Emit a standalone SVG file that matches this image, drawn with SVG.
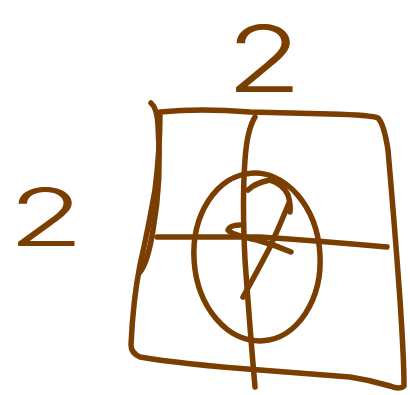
<svg xmlns="http://www.w3.org/2000/svg" width="410" height="395" viewBox="0 0 410 395">
<style>
.s{fill:none;stroke:#7a3e00;stroke-width:5.5;stroke-linecap:round;stroke-linejoin:round}
.t{fill:#7a3e00;font-family:Inter,"Liberation Sans",sans-serif;font-weight:300;text-anchor:middle}
</style>
<rect width="410" height="395" fill="#ffffff"/>
<text class="t" x="0" y="0" font-size="92" transform="translate(264,92) scale(1.35,1)">2</text>
<text class="t" x="0" y="0" font-size="80" transform="translate(46,246) scale(1.55,1)">2</text>
<path class="s" d="M151,103 Q157,108 158,125 Q162,180 153,230 Q148,262 140,272"/>
<path class="s" d="M160,112 Q200,108 250,112 L330,114 Q372,115 378,118 Q384,124 388,150 Q395,230 400,300 Q404,360 404,386 Q400,390 390,386 Q370,380 350,377 L260,370 Q180,364 140,357 Q131,353 131,345 Q133,300 140,265 Q148,230 155,190 Q160,150 160,112"/>
<path class="s" d="M255,117 Q247,130 245,160 Q242,200 245,260 Q250,330 255,387"/>
<path class="s" d="M157,237 L260,237 Q320,241 387,247"/>
<ellipse class="s" cx="257" cy="257" rx="63" ry="84" transform="rotate(-4 257 257)"/>
<path class="s" d="M248,190 Q255,183 270,180 Q283,184 288,195 Q291,205 290,212"/>
<path class="s" d="M289,203 Q280,225 270,247 Q258,270 243,297"/>
<path class="s" d="M240,225 Q230,225 228,230 Q232,235 257,240 Q275,245 291,252"/>
</svg>
